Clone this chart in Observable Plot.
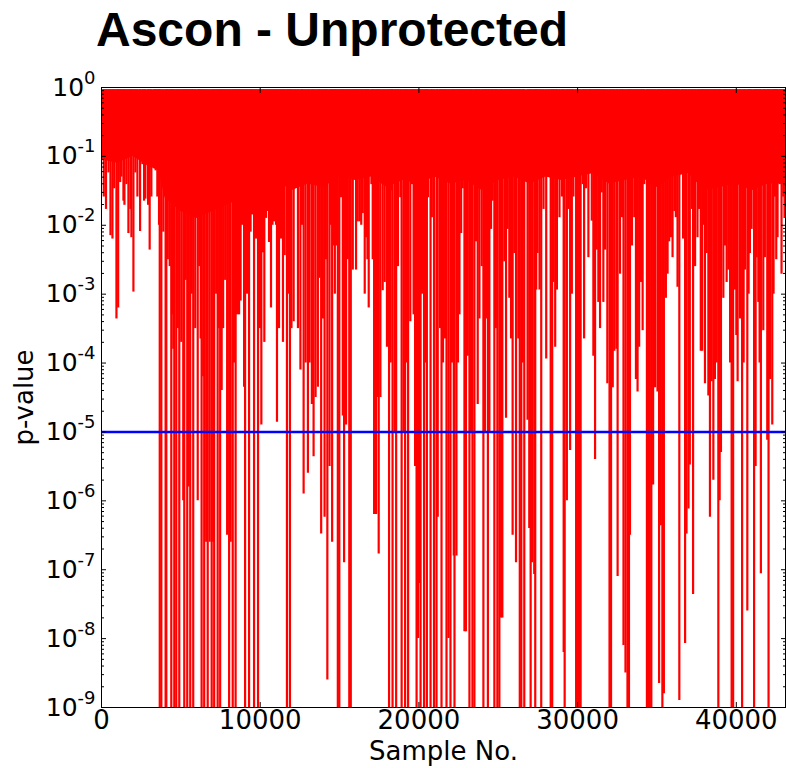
<!DOCTYPE html>
<html>
<head>
<meta charset="utf-8">
<script src="https://cdn.jsdelivr.net/npm/d3@7"></script>
<script src="https://cdn.jsdelivr.net/npm/@observablehq/plot@0.6"></script>
<style>
  html, body { margin: 0; padding: 0; background: #fff; }
  #wrap { position: relative; width: 786px; height: 768px; background: #fff; overflow: hidden; }
  #title { position: absolute; left: 96px; top: 6px; font: bold 48px "Liberation Sans", Arial, sans-serif; line-height: 48px; color: #000; white-space: nowrap; }
  #chart { position: absolute; left: 0; top: 60px; }
</style>
</head>
<body>
<div id="wrap">
  <div id="title">Ascon - Unprotected</div>
  <div id="chart"></div>
</div>
<script>
// ---- data ----
const titleText = "Ascon - Unprotected";
const xLabel = "Sample No.";
const yLabel = "p-value";
const xMax = 43100;                       // last sample on the axis
const xTicks = [0, 10000, 20000, 30000, 40000];
const yTicks = [1e-9, 1e-8, 1e-7, 1e-6, 1e-5, 1e-4, 1e-3, 1e-2, 1e-1, 1e0];
const threshold = 1e-5;                   // blue line
const pMax = 0.93;                        // upper edge of the red trace

// lower edge (log10 p) of the dense, solid part of the trace
const bandSample = [0,1000,2000,3000,3600,4000,5000,6000,7000,8000,9000,10000,11000,12000,13000,14000,15000,16000,17000,18000,19000,20000,21000,22000,23000,24000,25000,26000,27000,28000,29000,30000,31000,32000,33000,34000,35000,36000,37000,38000,39000,40000,41000,42000,43100];
const bandLogP   = [-1.05,-1.1,-1.0,-1.15,-1.2,-1.6,-1.8,-1.9,-1.8,-1.7,-1.6,-1.5,-1.35,-1.5,-1.4,-1.45,-1.3,-1.35,-1.3,-1.45,-1.35,-1.4,-1.3,-1.4,-1.35,-1.5,-1.35,-1.3,-1.4,-1.3,-1.35,-1.3,-1.25,-1.4,-1.35,-1.3,-1.45,-1.3,-1.25,-1.5,-1.45,-1.4,-1.5,-1.4,-1.4];

// downward excursions of the trace: sample number and log10(p-value); -10 = below the axis
const spikeSample = [
145,283,440,565,690,800,942,1050,1175,1257,1382,1445,1571,1696,1822,1885,2011,2136,2262,2431,2576,2683,2765,2934,3035,3142,3311,3412,3518,3625,
3670,3770,3895,4040,4084,4178,4300,4398,4440,4524,4587,4712,4806,4901,5026,5152,5215,5309,5403,
5497,5592,5686,5780,5906,6063,6157,6251,6308,6409,6471,6597,6692,6817,6943,7037,7100,7225,7320,7414,7477,7571,7665,7791,7917,8042,8136,8268,8356,8451,8545,8670,8765,8859,8985,9048,9173,9299,9393,9487,9613,9739,9864,9990,10072,10178,10260,10367,10461,10555,10681,10775,
10870,10995,11058,11184,11309,11435,11542,11686,11781,11875,11970,12108,12233,12378,12535,12629,12736,12862,13006,13113,13257,13364,13490,13634,13741,13842,13948,14055,14137,14231,14369,14451,14533,14621,14702,14784,14891,14985,15098,15205,15286,15412,15519,15613,15707,15833,15940,16040,16147,
16273,16367,16461,16587,16669,16757,16838,17008,17090,17178,17303,17404,17467,17574,17718,17844,17988,18120,18220,18296,18340,18472,18566,18679,18830,18912,19037,19132,19226,19320,19459,19560,19666,19760,19854,19948,20043,20106,20200,20326,20420,20502,20577,20734,20816,20953,21111,21186,21337,21425,21520,
21645,21739,21865,21990,22085,22198,22242,22367,22462,22556,22663,22764,22870,22964,23078,23185,23279,23373,23498,23605,23706,23813,23957,24064,24158,24234,24347,24441,24548,24649,24755,24850,24944,25070,25177,25258,25384,25491,25592,25698,25805,25906,26012,26119,26263,26357,26452,26546,26596,26640,26847,26954,
27042,27136,27268,27331,27394,27476,27601,27708,27853,28022,28167,28305,28399,28481,28588,28694,28858,29009,29122,29185,29323,29424,29530,29637,29738,29907,30001,30096,30190,30328,30410,30535,30680,30787,30894,30994,31101,31208,31308,31415,31522,31623,31730,31874,32012,32107,32214,32314,
32446,32521,32672,32797,32892,33017,33143,33237,33300,33426,33570,33677,33778,33878,33991,34098,34199,34368,34456,34550,34645,34758,34883,35034,35135,35242,35342,35436,35562,35669,35770,35876,35983,36096,36190,36297,36410,36567,36649,36774,36862,36988,37070,37196,37277,37403,37554,37655,37762,
37850,37925,38026,38133,38240,38340,38447,38554,38654,38761,38868,38950,39033,39183,39284,39391,39497,39610,39706,39800,39914,40002,40083,40228,40366,40461,40543,40694,40776,40858,40964,41121,41216,41279,41386,41468,41549,41700,41800,41951,42032,42127,42266,42347,42429,42517,42599,42744,42850,42957,43039
];
const spikeLogP = [
-1.59,-1.77,-1.24,-2.15,-2.2,-1.47,-3.36,-3.2,-1.38,-1.3,-1.65,-1.71,-1.41,-2.12,-1.77,-2.18,-2.97,-1.24,-1.59,-2.09,-1.12,-1.65,-1.62,-1.71,-2.36,-1.59,-1.18,-1.21,-1.59,-2.0,
-10,-10,-2.1,-10,-10,-2.5,-2.6,-10,-3.3,-3.8,-10,-10,-3.5,-10,-3.7,-6.0,-10,-2.8,-10,
-5.8,-10,-3.0,-10,-3.5,-6.0,-2.6,-3.65,-10,-4.2,-10,-6.6,-10,-6.6,-10,-6.6,-10,-3.0,-10,-3.5,-10,-4.4,-3.5,-2.8,-6.5,-10,-6.6,-10,-4.0,-10,-3.3,-3.3,-3.1,-2.0,-4.35,-10,-3.0,-10,-2.1,-1.85,-10,-2.2,-10,-3.5,-4.9,-2.4,-3.7,-1.9,-1.8,-2.25,-3.2,-2.0,
-1.95,-2.0,-4.86,-3.5,-2.2,-3.7,-2.44,-10,-3.0,-10,-3.5,-3.4,-1.4,-3.5,-4.1,-2.0,-5.9,-4.0,-5.6,-4.0,-4.6,-5.36,-4.5,-4.35,-2.77,-6.48,-3.36,-6.24,-2.5,-8.6,-5.5,-2.0,-6.6,-2.3,-3.0,-2.3,-10,-10,-1.6,-4.77,-6.9,-4.9,-2.5,-10,-10,-2.65,-1.15,-2.65,-1.95,
-1.95,-2.0,-1.83,-3.0,-2.18,-2.5,-3.2,-1.41,-2.5,-6.2,-6.2,-4.5,-6.77,-4.5,-2.95,-2.83,-3.77,-10,-4.0,-1.5,-10,-5.0,-10,-2.6,-1.6,-10,-5.0,-10,-4.0,-10,-3.4,-1.41,-3.3,-5.5,-10,-8.0,-7.2,-10,-3.0,-10,-4.0,-10,-1.6,-10,-1.89,-10,-10,-6.24,-3.5,-10,-4.0,
-3.65,-10,-8.0,-10,-4.0,-6.8,-10,-6.8,-4.0,-3.3,-2.12,-1.47,-7.9,-7.9,-3.9,-10,-5.0,-10,-10,-2.24,-4.6,-3.36,-2.6,-10,-5.0,-3.36,-10,-5.0,-2.06,-1.65,-10,-3.5,-10,-10,-7.7,-7.7,-2.53,-4.8,-2.06,-3.06,-3.65,-6.5,-2.41,-6.9,-3.65,-10,-10,-4.0,-2.06,-10,-4.83,-6.4,
-10,-6.9,-7.07,-10,-2.94,-2.41,-2.94,-10,-1.77,-3.94,-1.3,-10,-10,-2.83,-3.77,-2.94,-1.89,-1.59,-8.2,-10,-6.0,-1.77,-5.27,-3.0,-1.59,-10,-10,-10,-10,-1.41,-3.65,-1.47,-2.47,-1.24,-1.94,-3.9,-5.4,-2.36,-3.12,-3.5,-1.53,-3.12,-2.36,-4.3,-10,-10,-4.36,-3.83,
-3.8,-7.1,-2.71,-1.89,-8.1,-8.5,-10,-10,-6.5,-2.3,-1.89,-4.24,-4.42,-3.77,-2.83,-3.53,-1.41,-10,-10,-10,-10,-5.77,-4.36,-4.42,-8.65,-6.36,-10,-8.8,-3.06,-2.71,-2.24,-2.18,-2.47,-1.8,-1.89,-2.9,-8.9,-1.18,-2.2,-8.07,-6.48,-6.12,-5.48,-1.77,-7.36,-2.6,-2.18,-1.77,-3.83,
-3.83,-2.0,-4.3,-2.41,-4.48,-6.24,-4.27,-5.7,-4.24,-4.0,-10,-6.0,-5.3,-3.06,-2.3,-2.83,-2.65,-4.0,-10,-10,-2.94,-3.6,-4.27,-3.36,-10,-4.0,-2.65,-7.6,-3.0,-2.41,-2.06,-10,-5.5,-2.47,-3.12,-4.0,-7.06,-3.53,-2.47,-5.12,-10,-4.24,-4.9,-3.0,-1.59,-2.5,-2.18,-1.41,-2.71,-1.59,-1.9
];

// ---- build tables ----
const band = bandSample.map((s, i) => ({s, p: Math.pow(10, bandLogP[i])}));
const n = Math.min(spikeSample.length, spikeLogP.length);
const spikes = [];
for (let i = 0; i < n; i++) spikes.push({s: spikeSample[i], p: Math.pow(10, spikeLogP[i])});
const yMinor = [];
for (let k = -9; k < 0; k++) for (let m = 2; m <= 9; m++) yMinor.push(m * Math.pow(10, k));

const noText = () => "";
const chart = Plot.plot({
  width: 786,
  height: 708,
  marginTop: 27,
  marginLeft: 101,
  marginRight: 1,
  marginBottom: 61,
  style: {fontFamily: "DejaVu Sans, sans-serif", fontSize: "26px", background: "#fff", color: "#000", overflow: "visible"},
  x: {domain: [0, xMax]},
  y: {type: "log", domain: [1e-9, 1]},
  marks: [
    Plot.areaY(band, {x: "s", y1: "p", y2: pMax, fill: "#ff0000", clip: true}),
    Plot.ruleX(spikes, {x: "s", y1: pMax, y2: "p", stroke: "#ff0000", strokeWidth: 2.2, clip: true}),
    Plot.ruleY([threshold], {y: d => d, stroke: "#0000ff", strokeWidth: 2.5}),
    Plot.frame({stroke: "#000", strokeWidth: 1}),
    // tick labels
    Plot.axisX({anchor: "bottom", ticks: xTicks, tickSize: 0, tickPadding: 3, tickFormat: d => String(d), fontSize: 26, label: null}),
    Plot.axisY({anchor: "left", ticks: yTicks, tickSize: 0, tickPadding: 6, tickFormat: d => "10^" + Math.round(Math.log10(d)), fontSize: 25, label: null}),
    // inward major ticks
    Plot.axisX({anchor: "bottom", ticks: xTicks, tickSize: -5, tickFormat: noText, label: null}),
    Plot.axisX({anchor: "top", ticks: xTicks, tickSize: -5, tickFormat: noText, label: null}),
    Plot.axisY({anchor: "left", ticks: yTicks, tickSize: -5, tickFormat: noText, label: null}),
    Plot.axisY({anchor: "right", ticks: yTicks, tickSize: -5, tickFormat: noText, label: null}),
    // inward minor ticks
    Plot.axisY({anchor: "left", ticks: yMinor, tickSize: -3, tickFormat: noText, label: null}),
    Plot.axisY({anchor: "right", ticks: yMinor, tickSize: -3, tickFormat: noText, label: null}),
    // axis titles
    Plot.text([xLabel], {text: d => d, frameAnchor: "bottom", textAnchor: "middle", lineAnchor: "middle", dy: 44, fontSize: 26}),
    Plot.text([yLabel], {text: d => d, frameAnchor: "left", textAnchor: "middle", lineAnchor: "middle", dx: -77, rotate: -90, fontSize: 26})
  ]
});
document.getElementById("chart").appendChild(chart);
document.getElementById("title").textContent = titleText;

// superscript exponents on the y tick labels
chart.querySelectorAll('g[aria-label="y-axis tick label"] text').forEach(t => {
  const s = t.textContent;
  const m = s.match(/^10\^(-?\d+)$/);
  if (!m) return;
  while (t.firstChild) t.removeChild(t.firstChild);
  t.appendChild(document.createTextNode("10"));
  const sup = document.createElementNS("http://www.w3.org/2000/svg", "tspan");
  sup.setAttribute("dy", "-12");
  sup.setAttribute("font-size", "18");
  sup.textContent = m[1];
  t.appendChild(sup);
});
</script>
</body>
</html>
